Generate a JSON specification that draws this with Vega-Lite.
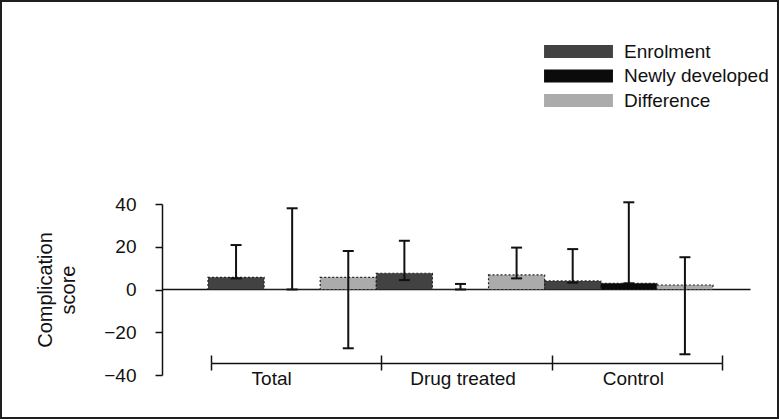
{
  "$schema": "https://vega.github.io/schema/vega-lite/v6.json",
  "width": 779,
  "height": 419,
  "autosize": {"type": "none"},
  "padding": 0,
  "background": "white",
  "config": {
    "view": {"stroke": "#1e1e1e", "strokeWidth": 4},
    "font": "Liberation Sans",
    "axis": {"labelFont": "Liberation Sans", "titleFont": "Liberation Sans", "labelColor": "#111", "titleColor": "#111", "domainColor": "#111", "tickColor": "#111", "grid": false},
    "legend": {"labelFont": "Liberation Sans"}
  },
  "data": {
    "values": [
      {"group": "Total", "series": "Enrolment", "value": 5.7, "low": 5.2, "high": 20.8},
      {"group": "Total", "series": "Newly developed", "value": 0, "low": 0, "high": 38.0},
      {"group": "Total", "series": "Difference", "value": 5.7, "low": -27.5, "high": 18.0},
      {"group": "Drug treated", "series": "Enrolment", "value": 7.6, "low": 4.4, "high": 22.8},
      {"group": "Drug treated", "series": "Newly developed", "value": 0, "low": 0, "high": 2.6},
      {"group": "Drug treated", "series": "Difference", "value": 6.8, "low": 5.2, "high": 19.6},
      {"group": "Control", "series": "Enrolment", "value": 4.0, "low": 3.2, "high": 18.9},
      {"group": "Control", "series": "Newly developed", "value": 2.9, "low": 2.9, "high": 40.8},
      {"group": "Control", "series": "Difference", "value": 2.1, "low": -30.3, "high": 15.1}
    ]
  },
  "layer": [
    {
      "encoding": {
        "x": {
          "field": "group", "type": "nominal",
          "sort": ["Total", "Drug treated", "Control"],
          "scale": {"range": [162, 750], "paddingInner": 0, "paddingOuter": 0.2466, "align": 0.554},
          "axis": {"orient": "top", "offset": -289, "labels": false, "ticks": false, "title": null, "domainWidth": 1.5, "domainColor": "#111"}
        },
        "xOffset": {
          "field": "series", "type": "nominal",
          "sort": ["Enrolment", "Newly developed", "Difference"],
          "scale": {"paddingInner": 0, "paddingOuter": 0}
        }
      },
      "layer": [
        {
          "mark": {"type": "bar", "stroke": "#222", "strokeWidth": 1.2, "strokeDash": [2, 2]},
          "encoding": {
            "y": {
              "field": "value", "type": "quantitative",
              "scale": {"domain": [-40, 40], "range": [375, 204], "nice": false},
              "axis": {
                "orient": "left", "offset": -162, "values": [-40, -20, 0, 20, 40],
                "tickSize": 7, "tickWidth": 1.5, "domainWidth": 1.5,
                "labelFontSize": 19, "labelPadding": 19,
                "title": ["Complication", "score"], "titleFontSize": 20, "titleFontWeight": "normal",
                "titlePadding": 25, "titleLineHeight": 23
              }
            },
            "color": {
              "field": "series", "type": "nominal",
              "scale": {"domain": ["Enrolment", "Newly developed", "Difference"], "range": ["#424242", "#0b0b0b", "#ababab"]},
              "legend": {
                "orient": "none", "legendX": 569, "legendY": 42, "title": null,
                "symbolType": "M-5.3,-1H5.3V1H-5.3Z", "symbolSize": 169,
                "symbolStrokeWidth": 0, "symbolOpacity": 1,
                "labelFontSize": 19, "labelOffset": 36, "rowPadding": 4.5, "padding": 0, "labelColor": "#111"
              }
            }
          }
        },
        {
          "mark": {"type": "rule", "strokeWidth": 2, "color": "#111"},
          "encoding": {
            "y": {"field": "low", "type": "quantitative"},
            "y2": {"field": "high"}
          }
        },
        {
          "mark": {"type": "tick", "size": 11, "thickness": 2, "color": "#111", "orient": "horizontal", "opacity": 1},
          "encoding": {"y": {"field": "high", "type": "quantitative"}}
        },
        {
          "mark": {"type": "tick", "size": 11, "thickness": 2, "color": "#111", "orient": "horizontal", "opacity": 1},
          "encoding": {"y": {"field": "low", "type": "quantitative"}}
        }
      ]
    },
    {
      "mark": {"type": "point", "opacity": 0},
      "encoding": {
        "x": {
          "field": "group", "type": "nominal",
          "sort": ["Total", "Drug treated", "Control"],
          "scale": {"range": [211, 722], "paddingInner": 0, "paddingOuter": 0},
          "axis": {
            "orient": "bottom", "offset": -56, "tickBand": "extent", "tickSize": 7, "tickWidth": 1.5,
            "domainWidth": 1.5, "labelAngle": 0, "labelFontSize": 19, "labelPadding": -1, "title": null,
            "labelOffset": {"condition": {"test": "datum.value === 'Total'", "value": -25}, "value": -4}
          }
        }
      }
    },
    {
      "mark": {"type": "point", "opacity": 0},
      "encoding": {
        "x": {
          "field": "group", "type": "nominal",
          "sort": ["Total", "Drug treated", "Control"],
          "scale": {"range": [211, 722], "paddingInner": 0, "paddingOuter": 0},
          "axis": {
            "orient": "bottom", "offset": -56, "tickBand": "extent", "tickSize": -8, "tickWidth": 1.5,
            "domain": false, "labels": false, "title": null
          }
        }
      }
    }
  ],
  "resolve": {"scale": {"x": "independent"}, "axis": {"x": "independent"}}
}
